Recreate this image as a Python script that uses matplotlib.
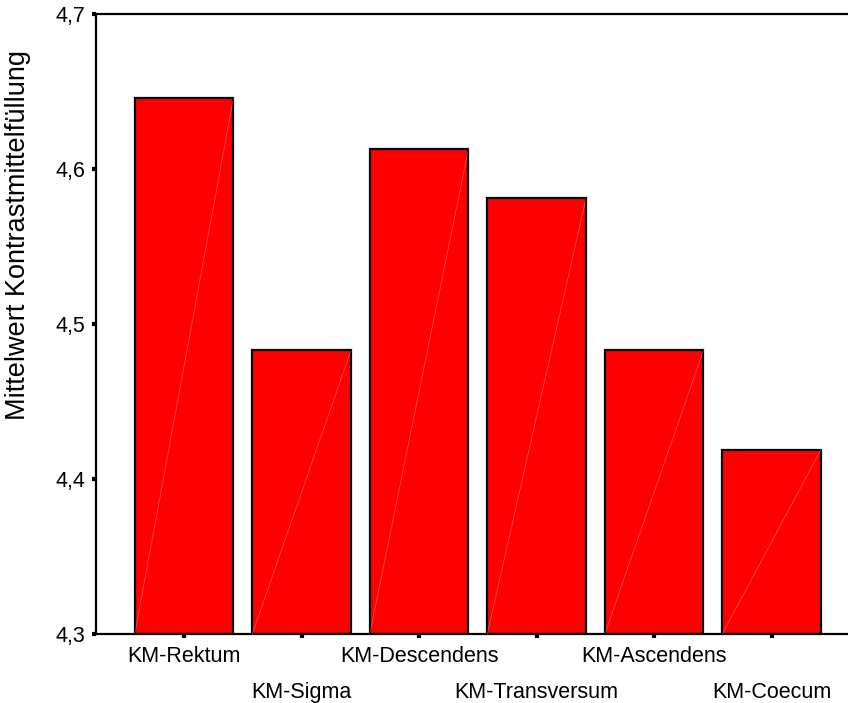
import matplotlib
matplotlib.use('Agg')
import numpy as np
import matplotlib.pyplot as plt

categories = ['KM-Rektum', 'KM-Sigma', 'KM-Descendens', 'KM-Transversum', 'KM-Ascendens', 'KM-Coecum']
means = [4.646, 4.483, 4.613, 4.581, 4.483, 4.419]
yticks = [4.3, 4.4, 4.5, 4.6, 4.7]
ytick_labels = ['4,3', '4,4', '4,5', '4,6', '4,7']

plt.rcParams['font.family'] = ['Liberation Sans', 'DejaVu Sans']

fig = plt.figure(figsize=(8.48, 7.03), dpi=100)
ax = fig.add_axes([96 / 848, 69 / 703, 1 - 96 / 848, 620 / 703])

x = np.arange(len(categories))
width = 0.84
ax.bar(x, np.array(means) - 4.3, bottom=4.3, width=width, color='#ff0000',
       edgecolor='black', linewidth=1.6, zorder=2)
# faint diagonal seam inside each bar
for xi, m in zip(x, means):
    ax.plot([xi - width / 2, xi + width / 2], [4.3, m], color='white',
            linewidth=0.6, alpha=0.3, zorder=3)

ax.set_ylim(4.3, 4.7)
ax.set_xlim(-0.75, 5.65)
ax.set_yticks(yticks)
ax.set_yticklabels(ytick_labels, fontsize=15.5)
ax.set_xticks(x)
ax.set_xticklabels(categories, fontsize=15.5)
ax.tick_params(axis='both', direction='out', length=3, width=3, color='black')
ax.tick_params(axis='y', pad=5)
ax.tick_params(axis='x', pad=6)
for i, t in enumerate(ax.xaxis.get_major_ticks()):
    if i % 2 == 1:
        t.set_pad(31.5)

ax.set_ylabel('Mittelwert Kontrastmittelfüllung', fontsize=19.5)
ax.yaxis.set_label_coords(-0.087, 0.644)

for s in ['left', 'top', 'bottom']:
    ax.spines[s].set_linewidth(1.6)
ax.spines['right'].set_visible(False)

fig.savefig('out.png', dpi=100)
